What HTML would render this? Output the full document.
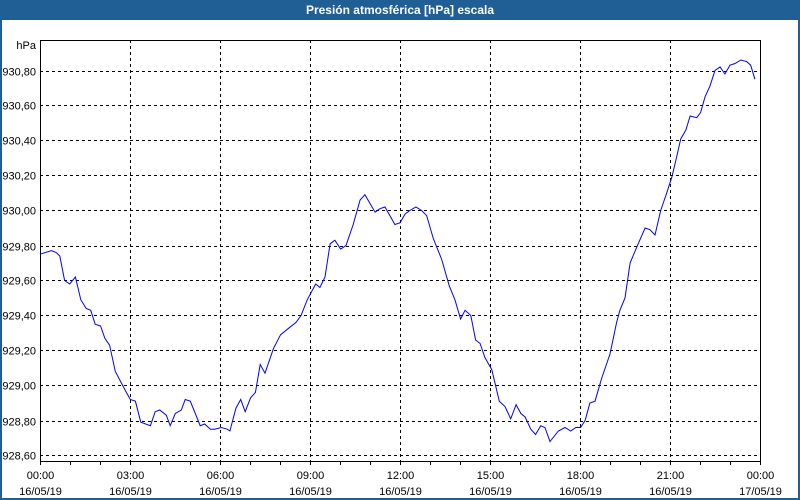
<!DOCTYPE html>
<html><head><meta charset="utf-8"><style>
body{margin:0;width:800px;height:500px;overflow:hidden;background:#fff;font-family:"Liberation Sans","DejaVu Sans",sans-serif;}
#win{position:absolute;left:0;top:0;width:796px;height:498px;border:2px solid #1f5f96;border-top:none;background:#fff;}
#title{position:absolute;left:0;top:0;width:800px;height:20px;background:#1f5f96;color:#fff;font-weight:bold;font-size:12px;text-align:center;line-height:20px;}
</style></head><body>
<div id="win"></div>
<div id="title">Presión atmosférica [hPa] escala</div>
<svg id="chart" width="800" height="500" style="position:absolute;left:0;top:0"></svg>
<script>
const times=[0.00,0.38,0.54,0.66,0.82,0.99,1.18,1.36,1.54,1.69,1.84,2.02,2.16,2.32,2.51,2.88,3.01,3.18,3.36,3.68,3.84,3.99,4.21,4.34,4.51,4.71,4.84,5.01,5.34,5.49,5.68,5.82,6.04,6.24,6.33,6.53,6.69,6.84,7.02,7.18,7.34,7.50,7.78,8.02,8.31,8.53,8.70,8.91,9.19,9.33,9.50,9.67,9.83,10.02,10.20,10.44,10.67,10.83,11.17,11.33,11.50,11.83,12.00,12.17,12.33,12.53,12.72,12.89,13.11,13.39,13.64,13.83,14.02,14.17,14.36,14.52,14.67,14.83,15.06,15.31,15.50,15.69,15.87,16.03,16.17,16.36,16.52,16.69,16.83,17.00,17.28,17.50,17.69,17.86,18.02,18.17,18.33,18.50,18.72,19.00,19.22,19.33,19.50,19.67,19.89,20.17,20.33,20.50,20.69,20.89,21.06,21.20,21.36,21.53,21.67,21.89,22.02,22.17,22.33,22.50,22.67,22.83,23.00,23.17,23.36,23.56,23.69,23.83];
const pressure=[929.75,929.77,929.76,929.74,929.60,929.58,929.62,929.49,929.44,929.43,929.35,929.34,929.27,929.23,929.08,928.96,928.92,928.91,928.79,928.77,928.85,928.86,928.83,928.77,928.84,928.86,928.92,928.91,928.77,928.78,928.75,928.75,928.76,928.75,928.74,928.87,928.92,928.85,928.93,928.96,929.12,929.07,929.21,929.29,929.33,929.36,929.40,929.49,929.58,929.56,929.62,929.81,929.83,929.78,929.80,929.92,930.06,930.09,929.99,930.01,930.02,929.92,929.93,929.98,930.00,930.02,930.00,929.97,929.84,929.72,929.57,929.49,929.38,929.43,929.40,929.26,929.24,929.16,929.09,928.91,928.88,928.81,928.89,928.84,928.82,928.75,928.72,928.77,928.76,928.68,928.74,928.76,928.74,928.76,928.76,928.80,928.90,928.91,929.04,929.18,929.36,929.43,929.50,929.70,929.79,929.90,929.89,929.86,930.00,930.10,930.19,930.29,930.41,930.46,930.54,930.53,930.56,930.65,930.71,930.80,930.82,930.78,930.83,930.84,930.86,930.85,930.83,930.75];
const yTicks=[928.6,928.8,929.0,929.2,929.4,929.6,929.8,930.0,930.2,930.4,930.6,930.8];
const xTickHours=[0,3,6,9,12,15,18,21,24];
const xTickTimes=["00:00","03:00","06:00","09:00","12:00","15:00","18:00","21:00","00:00"];
const xTickDates=["16/05/19","16/05/19","16/05/19","16/05/19","16/05/19","16/05/19","16/05/19","16/05/19","17/05/19"];

const L=40,R=760,T=40,B=461;
const xs=h=>L+h*30;
const ys=v=>70.5+(930.8-v)*175;
const svg=document.getElementById('chart');
const NS='http://www.w3.org/2000/svg';
function mk(tag,attrs){const e=document.createElementNS(NS,tag);for(const k in attrs)e.setAttribute(k,attrs[k]);svg.appendChild(e);return e;}

yTicks.forEach(v=>{
  const y=Math.round(ys(v))+0.5;
  const g=mk('line',{x1:L,x2:R,y1:y,y2:y,stroke:'#000','stroke-dasharray':'3,3'});
  
  
  const t=mk('text',{x:36,y:y+4,'text-anchor':'end','font-size':'11',fill:'#000'});
  t.textContent=v.toFixed(2).replace('.',',');
  
  
});
const u=mk('text',{x:36,y:49,'text-anchor':'end','font-size':'11',fill:'#000'});
u.textContent='hPa';



for(let h=0;h<=24;h++){
  const x=xs(h)+0.5;
  const tk=mk('line',{x1:x,x2:x,y1:B,y2:B+4,stroke:'#000'});
  
  
}
xTickHours.forEach((h,i)=>{
  const x=xs(h)+0.5;
  if(h>0&&h<24){
    const g=mk('line',{x1:x,x2:x,y1:T,y2:B,stroke:'#000','stroke-dasharray':'3,3'});
    
    
  }
  const t1=mk('text',{x:x,y:479,'text-anchor':'middle','font-size':'11',fill:'#000'});
  t1.textContent=xTickTimes[i];
  
  
  const t2=mk('text',{x:x,y:495,'text-anchor':'middle','font-size':'11',fill:'#000'});
  t2.textContent=xTickDates[i];
  
  
});
const fr=mk('path',{d:`M${L+0.5},${B} L${L+0.5},${T+0.5} L${R+0.5},${T+0.5} L${R+0.5},${B}`,fill:'none',stroke:'#000'});


const ax=mk('line',{x1:L,x2:R+1,y1:B+0.5,y2:B+0.5,stroke:'#000'});



const pts=times.map((t,i)=>xs(t).toFixed(1)+','+ys(pressure[i]).toFixed(1)).join(' ');
const ln=mk('polyline',{points:pts,fill:'none',stroke:'#0000ff','stroke-width':'1'});


</script>
</body></html>
